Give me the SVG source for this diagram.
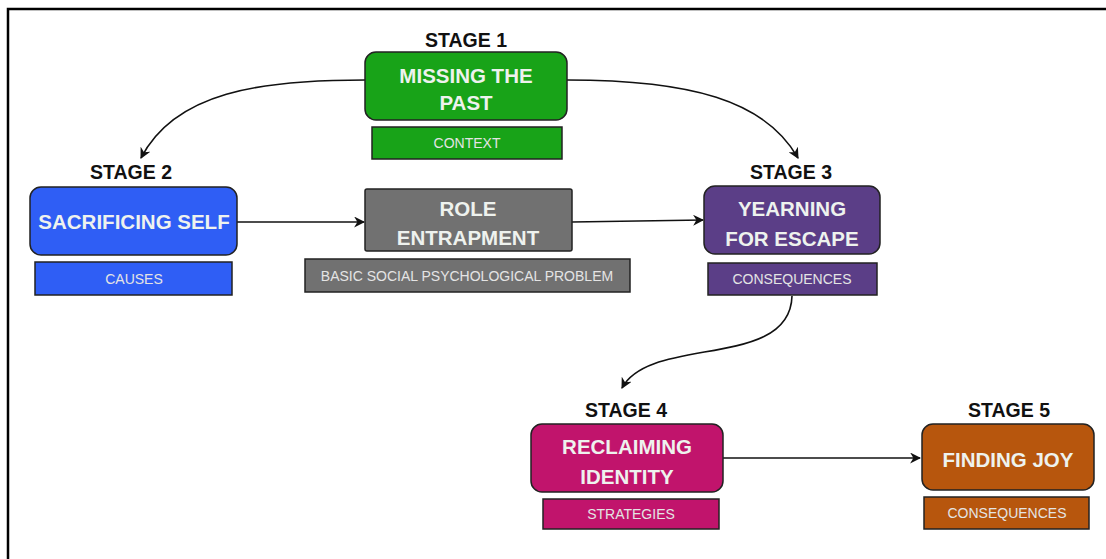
<svg xmlns="http://www.w3.org/2000/svg" width="1106" height="559" viewBox="0 0 1106 559">
<defs>
<marker id="ah" viewBox="0 0 10 10" refX="9" refY="5" markerWidth="11" markerHeight="11" orient="auto" markerUnits="userSpaceOnUse">
<path d="M0,0 L10,5 L0,10 L3,5 Z" fill="#111"/>
</marker>
<style>
.stage{font-family:"Liberation Sans",Arial,sans-serif;font-weight:bold;font-size:19.5px;fill:#111;text-anchor:middle}
.main{font-family:"Liberation Sans",Arial,sans-serif;font-weight:bold;font-size:20.5px;fill:#eef2ee;text-anchor:middle}
.sub{font-family:"Liberation Sans",Arial,sans-serif;font-size:14px;fill:#e4e4e4;text-anchor:middle}
.box{stroke:#222;stroke-width:1.5}
.conn{fill:none;stroke:#111;stroke-width:1.6;marker-end:url(#ah)}
</style>
</defs>
<rect x="0" y="0" width="1106" height="559" fill="#fff"/>
<path d="M8,559 L8,9 L1106,9" fill="none" stroke="#000" stroke-width="2.5"/>

<g id="connectors">
<path class="conn" d="M365,80 C260,80 175,92 141,158"/>
<path class="conn" d="M567,80 C690,80 765,100 798,158"/>
<path class="conn" d="M237,222 L364,222"/>
<path class="conn" d="M572,222 L703,220"/>
<path class="conn" d="M792,296 C790,370 650,335 622,388"/>
<path class="conn" d="M723,458 L920,458"/>
</g>

<g id="stage1">
<text class="stage" x="466" y="47">STAGE 1</text>
<rect class="box" x="365" y="52" width="202" height="68" rx="11" fill="#18a318"/>
<text class="main" x="466" y="83">MISSING THE</text>
<text class="main" x="466" y="110">PAST</text>
<rect class="box" x="372" y="127" width="190" height="32" fill="#18a318"/>
<text class="sub" x="467" y="148" fill="#d9f2d0">CONTEXT</text>
</g>

<g id="stage2">
<text class="stage" x="131" y="179">STAGE 2</text>
<rect class="box" x="30" y="187" width="207" height="68" rx="11" fill="#2f5ef5"/>
<text class="main" x="134" y="229">SACRIFICING SELF</text>
<rect class="box" x="35" y="262" width="197" height="33" fill="#2f5ef5"/>
<text class="sub" x="134" y="284">CAUSES</text>
</g>

<g id="role">
<rect class="box" x="365" y="189" width="207" height="62" rx="2" fill="#717171"/>
<text class="main" x="468" y="216">ROLE</text>
<text class="main" x="468" y="245">ENTRAPMENT</text>
<rect class="box" x="305" y="259" width="325" height="33" fill="#717171"/>
<text class="sub" x="467" y="281">BASIC SOCIAL PSYCHOLOGICAL PROBLEM</text>
</g>

<g id="stage3">
<text class="stage" x="791" y="179">STAGE 3</text>
<rect class="box" x="704" y="186" width="176" height="68" rx="11" fill="#5b3e87"/>
<text class="main" x="792" y="216">YEARNING</text>
<text class="main" x="792" y="246">FOR ESCAPE</text>
<rect class="box" x="708" y="263" width="169" height="32" fill="#5b3e87"/>
<text class="sub" x="792" y="284">CONSEQUENCES</text>
</g>

<g id="stage4">
<text class="stage" x="626" y="417">STAGE 4</text>
<rect class="box" x="531" y="424" width="192" height="68" rx="11" fill="#c1146c"/>
<text class="main" x="627" y="454">RECLAIMING</text>
<text class="main" x="627" y="484">IDENTITY</text>
<rect class="box" x="543" y="499" width="176" height="30" fill="#c1146c"/>
<text class="sub" x="631" y="519">STRATEGIES</text>
</g>

<g id="stage5">
<text class="stage" x="1009" y="417">STAGE 5</text>
<rect class="box" x="922" y="424" width="172" height="66" rx="11" fill="#b7560d"/>
<text class="main" x="1008" y="467">FINDING JOY</text>
<rect class="box" x="924" y="497" width="165" height="32" fill="#b7560d"/>
<text class="sub" x="1007" y="518">CONSEQUENCES</text>
</g>
</svg>
